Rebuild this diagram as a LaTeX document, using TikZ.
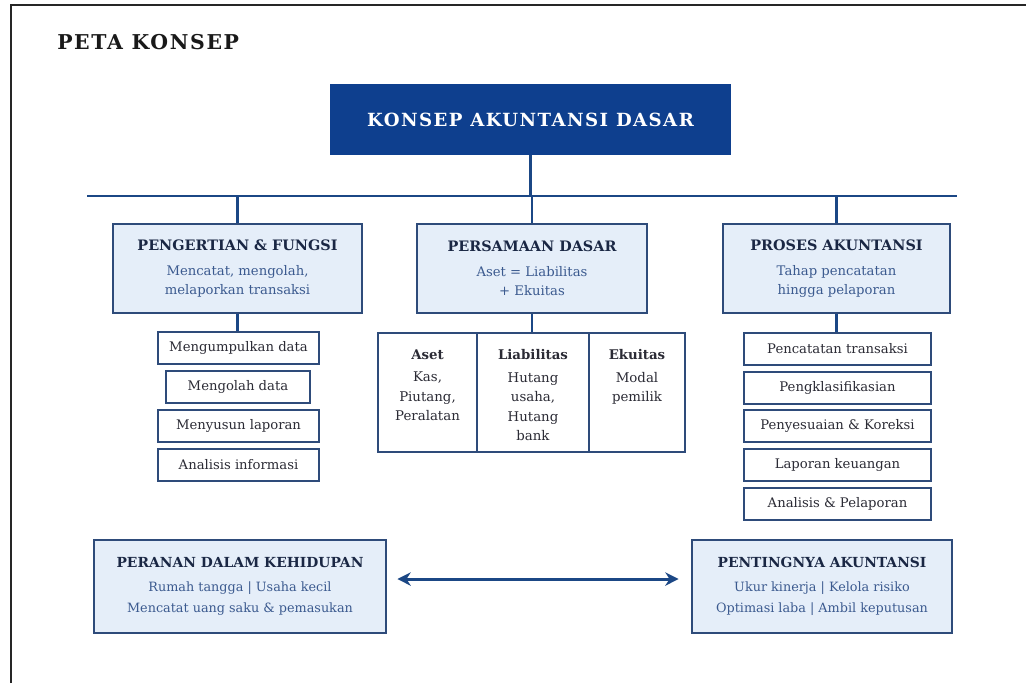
\documentclass[tikz,border=0pt]{standalone}
\usepackage{fontspec}
\setmainfont{DejaVu Serif}
\newfontfamily\spacedfont[LetterSpace=8]{DejaVu Serif}
\usetikzlibrary{arrows.meta,calc}
\definecolor{mainblue}{HTML}{0E3F8E}
\definecolor{conncol}{HTML}{1B4785}
\definecolor{lightfill}{HTML}{E5EEF9}
\definecolor{bordercol}{HTML}{2E4B7A}
\definecolor{hdcol}{HTML}{1A2744}
\definecolor{subcol}{HTML}{3B5A8F}
\definecolor{listcol}{HTML}{2B2B35}
\newcommand{\hd}[1]{{\fontsize{10.8}{13}\selectfont\bfseries\color{hdcol}#1}}
\newcommand{\hdb}[1]{{\fontsize{10.4}{13}\selectfont\bfseries\color{hdcol}#1}}
\newcommand{\sub}[1]{{\color{subcol}#1}}
\tikzset{
  conn/.style={draw=conncol, line width=2.2pt},
  mainbox/.style={fill=mainblue, draw=none, inner sep=0pt, text=white, font=\spacedfont\fontsize{13.6}{16}\selectfont\bfseries},
  catbox/.style={fill=lightfill, draw=bordercol, line width=1.1pt, inner sep=0pt, align=center, font=\fontsize{9.9}{14.25}\selectfont},
  botbox/.style={catbox, font=\fontsize{9.6}{15.75}\selectfont},
  listbox/.style={fill=white, draw=bordercol, line width=1.1pt, inner sep=0pt, text=listcol, font=\fontsize{9.9}{12}\selectfont, minimum height=24pt},
  cellbox/.style={fill=white, draw=bordercol, line width=1.1pt, inner sep=0pt, minimum height={119*0.75pt}},
  celltext/.style={anchor=north, inner sep=0pt, align=center, text=listcol, font=\fontsize{10}{14.6}\selectfont},
  arr/.style={draw=conncol, line width=2.2pt, {Stealth[length=10pt,width=10pt]}-{Stealth[length=10pt,width=10pt]}}
}
\begin{document}
\begin{tikzpicture}[x=0.75pt,y=-0.75pt]
\useasboundingbox (0,0) rectangle (1026,683);
\fill[white] (0,0) rectangle (1026,683);
\draw[black!85, line width=0.9pt] (11,683) -- (11,5) -- (1026,5);

\node[anchor=west, inner sep=0pt, text=black!90, font=\spacedfont\fontsize{15.3}{17}\selectfont\bfseries] (title) at (57,42) {PETA KONSEP};

\node[mainbox, minimum width={401*0.75pt}, minimum height={71*0.75pt}] (main) at (530.5,119.5) {KONSEP AKUNTANSI DASAR};

\coordinate (busL) at (87,196);
\coordinate (busR) at (957,196);
\draw[conn] (main.south) -- (main.south |- busL);
\draw[conn] (busL) -- (busR);

\node[catbox, minimum width={249*0.75pt}, minimum height={89*0.75pt}] (b1) at (237.5,268.5)
  {\hd{PENGERTIAN \& FUNGSI}\\[4.5pt]\sub{Mencatat, mengolah,}\\\sub{melaporkan transaksi}};
\node[catbox, minimum width={230*0.75pt}, minimum height={89*0.75pt}] (b2) at (532,268.5)
  {\hd{PERSAMAAN DASAR}\\[4.5pt]\sub{Aset = Liabilitas}\\\sub{+ Ekuitas}};
\node[catbox, minimum width={227*0.75pt}, minimum height={89*0.75pt}] (b3) at (836.5,268.5)
  {\hd{PROSES AKUNTANSI}\\[4.5pt]\sub{Tahap pencatatan}\\\sub{hingga pelaporan}};

\draw[conn] (b1.north |- busL) -- (b1.north);
\draw[conn] (b2.north |- busL) -- (b2.north);
\draw[conn] (b3.north |- busL) -- (b3.north);

% list under b1
\node[listbox, minimum width={161*0.75pt}] (l1) at (238.5,348) {Mengumpulkan data};
\node[listbox, minimum width={144*0.75pt}] (l2) at (238,387) {Mengolah data};
\node[listbox, minimum width={161*0.75pt}] (l3) at (238.5,426) {Menyusun laporan};
\node[listbox, minimum width={161*0.75pt}] (l4) at (238.5,465) {Analisis informasi};
\draw[conn] (b1.south) -- (l1.north -| b1.south);

% cells under b2
\node[cellbox, minimum width={99*0.75pt}] (aset) at (427.5,392.5) {};
\node[cellbox, minimum width={112*0.75pt}] (liab) at (533,392.5) {};
\node[cellbox, minimum width={96*0.75pt}] (ekui) at (637,392.5) {};
\draw[conn] (b2.south) -- (liab.north -| b2.south);
\node[celltext] (asett) at ([yshift=-12.7pt]aset.north) {\textbf{Aset}\\[2.5pt]Kas,\\Piutang,\\Peralatan};
\node[celltext] (liabt) at ([yshift=-12.7pt]liab.north) {\textbf{Liabilitas}\\[2.5pt]Hutang\\usaha,\\Hutang\\bank};
\node[celltext] (ekuit) at ([yshift=-12.7pt]ekui.north) {\textbf{Ekuitas}\\[2.5pt]Modal\\pemilik};

% list under b3
\node[listbox, minimum width={187*0.75pt}] (p1) at (837.5,349) {Pencatatan transaksi};
\node[listbox, minimum width={187*0.75pt}] (p2) at (837.5,388) {Pengklasifikasian};
\node[listbox, minimum width={187*0.75pt}] (p3) at (837.5,426) {Penyesuaian \& Koreksi};
\node[listbox, minimum width={187*0.75pt}] (p4) at (837.5,465) {Laporan keuangan};
\node[listbox, minimum width={187*0.75pt}] (p5) at (837.5,504) {Analisis \& Pelaporan};
\draw[conn] (b3.south) -- (p1.north -| b3.south);

% bottom boxes
\node[botbox, minimum width={292*0.75pt}, minimum height={93*0.75pt}] (pl) at (240,586.5)
  {\hdb{PERANAN DALAM KEHIDUPAN}\\[2.3pt]\sub{Rumah tangga | Usaha kecil}\\\sub{Mencatat uang saku \& pemasukan}};
\node[botbox, minimum width={260*0.75pt}, minimum height={93*0.75pt}] (pi) at (822,586.5)
  {\hdb{PENTINGNYA AKUNTANSI}\\[2.3pt]\sub{Ukur kinerja | Kelola risiko}\\\sub{Optimasi laba | Ambil keputusan}};
\draw[arr, shorten <=8pt, shorten >=9.5pt] ([yshift=5.6pt]pl.east) -- ([yshift=5.6pt]pi.west);
\end{tikzpicture}
\end{document}
